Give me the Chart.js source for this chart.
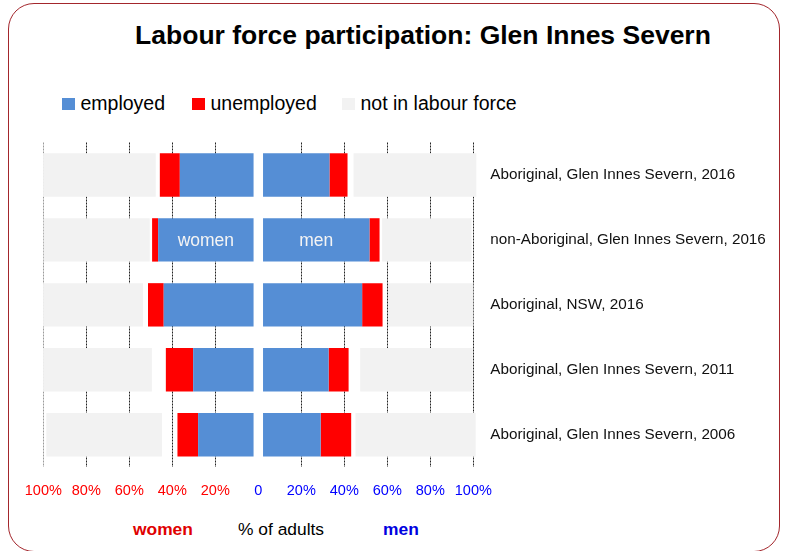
<!DOCTYPE html>
<html>
<head>
<meta charset="utf-8">
<script src="https://cdn.jsdelivr.net/npm/chart.js@4.4.0/dist/chart.umd.min.js"></script>
<style>
  html, body { margin: 0; padding: 0; background: #fff; }
  #wrap { position: relative; width: 786px; height: 551px; overflow: hidden; font-family: "Liberation Sans", Arial, sans-serif; }
  #frame { position: absolute; left: 8px; top: 3px; height: 549px; border: 1px solid #a3262c; border-radius: 26px; box-sizing: border-box; width: 772px; }
  #title { position: absolute; left: 0; width: 846px; top: 20px; text-align: center; font-weight: bold; font-size: 26.5px; color: #000; white-space: nowrap; }
  .leg { position: absolute; top: 90px; font-size: 19.5px; color: #000; white-space: nowrap; line-height: 26px; }
  .leg i { display: inline-block; width: 12.5px; height: 12.5px; margin-right: 6px; vertical-align: 0px; }
  .bot { position: absolute; top: 518px; font-size: 17.4px; white-space: nowrap; line-height: 22px; }
  canvas { position: absolute; left: 0; top: 0; }
</style>
</head>
<body>
<div id="wrap">
  <div id="frame"></div>
  <div id="title">Labour force participation: Glen Innes Severn</div>
  <div class="leg" style="left:62px"><i style="background:#558ed5"></i>employed</div>
  <div class="leg" style="left:192px"><i style="background:#ff0000"></i>unemployed</div>
  <div class="leg" style="left:342px"><i style="background:#f2f2f2"></i>not in labour force</div>
  <div class="bot" style="left:133px;color:#e00000;font-weight:bold">women</div>
  <div class="bot" style="left:238px;color:#000">% of adults</div>
  <div class="bot" style="left:383px;color:#0000e0;font-weight:bold">men</div>
  <canvas id="c" width="786" height="551"></canvas>
</div>
<script>
const categories = [
  "Aboriginal, Glen Innes Severn, 2016",
  "non-Aboriginal, Glen Innes Severn, 2016",
  "Aboriginal, NSW, 2016",
  "Aboriginal, Glen Innes Severn, 2011",
  "Aboriginal, Glen Innes Severn, 2006"
];
// women (% of adults)
const womenEmployed   = [34.3, 44.4, 41.8, 28.1, 25.8];
const womenUnemployed = [9.3, 2.8, 7.3, 12.7, 9.6];
const womenNotStated  = [1.9, 1.1, 2.3, 6.5, 7.2];
const womenNILF       = [52.4, 49.3, 46.5, 50.6, 53.8];
// men (% of adults)
const menEmployed   = [30.9, 49.5, 46.1, 30.5, 26.8];
const menUnemployed = [8.4, 4.7, 9.5, 9.3, 14.2];
const menNotStated  = [2.8, 1.2, 2.6, 5.4, 2.0];
const menNILF       = [57.1, 41.6, 39.6, 52.3, 55.9];
// central gap between the two halves
const centreGap = [2.2, 2.2, 2.2, 2.2, 2.2];
const tickValues = [-100, -80, -60, -40, -20, 0, 20, 40, 60, 80, 100];

const BLUE = '#558ed5', RED = '#ff0000', GREY = '#f2f2f2';
const neg = a => a.map(v => -v);

function ds(label, data, color) {
  return { label, data, backgroundColor: color, borderWidth: 0, stack: 's', clip: false,
           barPercentage: 0.668, categoryPercentage: 1.0 };
}

const datasets = [
  ds('gapW', neg(centreGap), 'rgba(0,0,0,0)'),
  ds('employed women', neg(womenEmployed), BLUE),
  ds('unemployed women', neg(womenUnemployed), RED),
  ds('not stated women', neg(womenNotStated), 'rgba(0,0,0,0)'),
  ds('not in labour force women', neg(womenNILF), GREY),
  ds('gapM', centreGap, 'rgba(0,0,0,0)'),
  ds('employed men', menEmployed, BLUE),
  ds('unemployed men', menUnemployed, RED),
  ds('not stated men', menNotStated, 'rgba(0,0,0,0)'),
  ds('not in labour force men', menNILF, GREY)
];

const inBarLabels = {
  id: 'inBarLabels',
  afterDatasetsDraw(chart) {
    const ctx = chart.ctx;
    ctx.save();
    ctx.font = '17.5px "Liberation Sans", Arial, sans-serif';
    ctx.fillStyle = '#f4f4f4';
    ctx.textAlign = 'center';
    ctx.textBaseline = 'middle';
    [[1, 'women'], [6, 'men']].forEach(([di, txt]) => {
      const el = chart.getDatasetMeta(di).data[1];
      ctx.fillText(txt, (el.x + el.base) / 2, el.y + 1);
    });
    ctx.restore();
  }
};

new Chart(document.getElementById('c'), {
  type: 'bar',
  data: { labels: categories, datasets },
  options: {
    indexAxis: 'y',
    responsive: false,
    animation: false,
    devicePixelRatio: 1,
    layout: { padding: { left: 43.3, top: 142.5, right: 2.7, bottom: 33.8 } },
    plugins: { legend: { display: false }, tooltip: { enabled: false } },
    scales: {
      x: {
        type: 'linear',
        min: -100, max: 100,
        afterBuildTicks: s => { s.ticks = tickValues.map(v => ({ value: v })); },
        afterFit: s => { s.height = 50; },
        grid: {
          drawTicks: false,
          lineWidth: 1,
          color: c => c.tick && c.tick.value === 0 ? 'rgba(0,0,0,0)' : (c.tick && c.tick.value === -100 ? '#9a9a9a' : '#222')
        },
        border: { display: false, dash: [2, 1] },
        ticks: {
          padding: 15,
          font: { size: 14.5, family: '"Liberation Sans", Arial, sans-serif' },
          color: c => c.tick.value < 0 ? '#ff0000' : '#0000ff',
          callback: v => v === 0 ? '0' : Math.abs(v) + '%',
          maxRotation: 0, autoSkip: false
        }
      },
      y: {
        position: 'right',
        stacked: true,
        afterFit: s => { s.width = 310; },
        grid: { display: false, drawTicks: false },
        border: { display: false },
        ticks: {
          padding: 17,
          font: { size: 15.25, family: '"Liberation Sans", Arial, sans-serif' },
          color: '#111'
        }
      }
    }
  },
  plugins: [inBarLabels]
});
</script>
</body>
</html>
